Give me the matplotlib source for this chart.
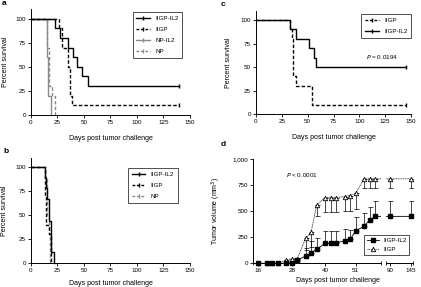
import numpy as np
import matplotlib
matplotlib.use('Agg')
import matplotlib.pyplot as plt
from matplotlib.lines import Line2D

plt.rcParams['font.family'] = ['Liberation Sans', 'DejaVu Sans']
plt.rcParams['font.size'] = 4.5
plt.rcParams['axes.linewidth'] = 0.7

# Panel a: Kaplan-Meier (days, percent survival)
a_t_iigp_il2 = [0, 23, 27, 35, 40, 43, 48, 54, 140]
a_s_iigp_il2 = [100, 90, 80, 70, 60, 50, 40, 30, 30]
a_t_iigp = [0, 26, 29, 35, 37, 39, 140]
a_s_iigp = [100, 90, 70, 50, 20, 10, 10]
a_t_np_il2 = [0, 15, 16, 19]
a_s_np_il2 = [100, 60, 20, 0]
a_t_np = [0, 15, 17, 20, 23]
a_s_np = [100, 70, 30, 20, 0]

# Panel b
b_t_iigp_il2 = [0, 13, 14, 15, 17, 19, 22]
b_s_iigp_il2 = [100, 89, 78, 67, 44, 11, 0]
b_t_iigp = [0, 13, 14, 17, 19]
b_s_iigp = [100, 70, 40, 30, 0]
b_t_np = [0, 13, 15, 17, 18]
b_s_np = [100, 90, 50, 30, 0]

# Panel c
c_t_iigp = [0, 33, 35, 36, 39, 54, 145]
c_s_iigp = [100, 90, 80, 40, 30, 10, 10]
c_t_iigp_il2 = [0, 33, 39, 51, 56, 58, 145]
c_s_iigp_il2 = [100, 90, 80, 70, 60, 50, 50]

# Panel d: tumor volume (mm3)
d_days = [16, 19, 21, 23, 26, 28, 30, 33, 35, 37, 40, 42, 44, 47, 49, 51, 54, 56, 58, 90, 145]
d_il2 = [0, 0, 0, 0, 0, 5, 30, 70, 100, 135, 190, 195, 195, 215, 230, 310, 355, 415, 450, 450, 450]
d_il2_err = [0, 0, 0, 0, 0, 15, 20, 80, 110, 105, 115, 110, 115, 115, 90, 130, 125, 125, 150, 150, 150]
d_iigp = [0, 0, 0, 0, 30, 45, 40, 240, 300, 560, 630, 630, 630, 640, 650, 670, 810, 810, 810, 810, 810]
d_iigp_err = [0, 0, 0, 0, 10, 20, 20, 110, 140, 110, 140, 140, 140, 140, 150, 150, 90, 90, 90, 90, 90]

W, H = 421, 287
fig = plt.figure(figsize=(W / 100, H / 100), dpi=100)


def px_axes(x0, x1, y_top, y_bot):
    return fig.add_axes([x0 / W, 1 - y_bot / H, (x1 - x0) / W, (y_bot - y_top) / H])


def style(ax):
    for s in ['top', 'right']:
        ax.spines[s].set_visible(False)
    ax.tick_params(direction='out', length=2, width=0.6, pad=1.5, labelsize=4.5)


def km(ax, t, s, **kw):
    ax.step(t, s, where='post', clip_on=False, **kw)
    if s[-1] > 0:
        ax.plot(t[-1], s[-1], marker='|', ms=3, mew=kw.get('lw', 1), color=kw['color'], clip_on=False)


def survival_axes(ax, lab_x, lab_y):
    style(ax)
    ax.set_xlim(0, 150)
    ax.set_ylim(0, 110)
    ax.set_xticks([0, 25, 50, 75, 100, 125, 150])
    ax.set_yticks([0, 25, 50, 75, 100])
    ax.set_ylabel('Percent survival', fontsize=5)
    ax.set_xlabel('Days post tumor challenge', fontsize=5)
    ax.yaxis.set_label_coords(lab_x, 0.5)
    ax.xaxis.set_label_coords(0.5, lab_y)


def leg_handle(color, ls, lw=1.0):
    return Line2D([], [], color=color, ls=ls, lw=lw, marker='|', ms=3, mew=lw)


blk, gry = 'black', '#8a8a8a'

# ---- a
ax = px_axes(31, 190, 9, 115)
km(ax, a_t_np_il2, a_s_np_il2, color=gry, lw=1.0)
km(ax, a_t_np, a_s_np, color=gry, lw=1.0, ls=(0, (2.5, 1.5)))
km(ax, a_t_iigp, a_s_iigp, color=blk, lw=1.0, ls=(0, (2.5, 1.5)))
km(ax, a_t_iigp_il2, a_s_iigp_il2, color=blk, lw=1.0)
survival_axes(ax, -0.14, -0.185)
hs = [leg_handle(blk, '-'), leg_handle(blk, (0, (2, 1.2))), leg_handle(gry, '-'), leg_handle(gry, (0, (2, 1.2)))]
leg = ax.legend(hs, ['IIGP-IL2', 'IIGP', 'NP-IL2', 'NP'], loc='upper left', bbox_to_anchor=(0.62, 1.0),
                fontsize=4.5, frameon=True, fancybox=False, edgecolor='black', handlelength=2.2,
                labelspacing=0.9, borderpad=0.6, numpoints=1)
leg.get_frame().set_linewidth(0.6)
fig.text(2 / W, 1 - 3.5 / H, 'a', fontsize=6, fontweight='bold', va='center')

# ---- b
ax = px_axes(31, 190, 157.8, 262.7)
km(ax, b_t_np, b_s_np, color=gry, lw=1.0, ls=(0, (2.5, 1.5)))
km(ax, b_t_iigp, b_s_iigp, color=blk, lw=1.0, ls=(0, (2.5, 1.5)))
km(ax, b_t_iigp_il2, b_s_iigp_il2, color=blk, lw=1.0)
survival_axes(ax, -0.145, -0.165)
hs = [leg_handle(blk, '-'), leg_handle(blk, (0, (2, 1.2))), leg_handle(gry, (0, (2, 1.2)))]
leg = ax.legend(hs, ['IIGP-IL2', 'IIGP', 'NP'], loc='upper left', bbox_to_anchor=(0.59, 0.93),
                fontsize=4.5, frameon=True, fancybox=False, edgecolor='black', handlelength=2.2,
                labelspacing=0.9, borderpad=0.6, numpoints=1)
leg.get_frame().set_linewidth(0.6)
fig.text(3 / W, 1 - 151.5 / H, 'b', fontsize=6, fontweight='bold', va='center')

# ---- c
ax = px_axes(256, 411, 10.6, 114)
km(ax, c_t_iigp, c_s_iigp, color=blk, lw=1.0, ls=(0, (2.5, 1.5)))
km(ax, c_t_iigp_il2, c_s_iigp_il2, color=blk, lw=1.0)
survival_axes(ax, -0.155, -0.195)
hs = [leg_handle(blk, (0, (2, 1.2))), leg_handle(blk, '-')]
leg = ax.legend(hs, ['IIGP', 'IIGP-IL2'], loc='upper left', bbox_to_anchor=(0.66, 1.0),
                fontsize=4.5, frameon=True, fancybox=False, edgecolor='black', handlelength=2.2,
                labelspacing=0.9, borderpad=0.6, numpoints=1)
leg.get_frame().set_linewidth(0.6)
ax.text(0.815, 0.555, r'$\it{P}$ = 0.0194', transform=ax.transAxes, fontsize=4.5, ha='center', va='center')
fig.text(221 / W, 1 - 5 / H, 'c', fontsize=6, fontweight='bold', va='center')

# ---- d (broken x axis)
d1 = px_axes(252.7, 380.7, 159, 263.3)
d2 = px_axes(385.7, 413.3, 159, 263.3)
days = np.array(d_days)
for axd, lim in [(d1, (14, 60)), (d2, (78.6, 152))]:
    style(axd)
    axd.set_xlim(*lim)
    axd.set_ylim(0, 1000)
    inside = (days >= lim[0]) & (days <= lim[1])
    axd.errorbar(d_days, d_il2, yerr=[np.zeros(len(d_il2)), d_il2_err], fmt='none',
                 ecolor=blk, elinewidth=0.5, capsize=1.8, capthick=0.5)
    axd.errorbar(d_days, d_iigp, yerr=[d_iigp_err, np.zeros(len(d_iigp))], fmt='none',
                 ecolor=blk, elinewidth=0.5, capsize=1.8, capthick=0.5)
    axd.plot(d_days, d_iigp, ls=(0, (1.5, 1)), lw=0.5, color=blk)
    axd.plot(d_days, d_il2, ls='-', lw=0.6, color=blk)
    axd.plot(days[inside], np.array(d_iigp)[inside], ls='none', marker='^', ms=3.2,
             mfc='white', mec=blk, mew=0.6, clip_on=False)
    axd.plot(days[inside], np.array(d_il2)[inside], ls='none', marker='s', ms=2.8, mfc=blk, mec=blk,
             clip_on=False)
    axd.plot([0, 1], [0, 0], transform=axd.transAxes, ls='none', marker='|', ms=3, mew=0.6,
             color=blk, clip_on=False)
d1.set_xticks([16, 28, 40, 51])
d2.set_xticks([90, 145])
d1.set_yticks([0, 250, 500, 750, 1000])
d1.set_yticklabels(['0', '250', '500', '750', '1,000'])
d2.spines['left'].set_visible(False)
d2.set_yticks([])
d2.patch.set_alpha(0)
d1.set_ylabel('Tumor volume (mm$^3$)', fontsize=5)
d1.yaxis.set_label_coords(-0.23, 0.5)
fig.text(338 / W, 1 - 280.5 / H, 'Days post tumor challenge', fontsize=5, ha='center', va='center')
fig.text(302 / W, 1 - 175 / H, r'$\it{P}$ < 0.0001', fontsize=4.5, ha='center', va='center')
hs = [Line2D([], [], color=blk, lw=0.6, marker='s', ms=2.8),
      Line2D([], [], color=blk, lw=0.5, ls=(0, (1.5, 1)), marker='^', ms=3.2, mfc='white', mew=0.6)]
leg = fig.legend(hs, ['IIGP-IL2', 'IIGP'], loc='upper left', bbox_to_anchor=(361 / W, 1 - 232 / H),
                 fontsize=4.5, frameon=True, fancybox=False, edgecolor='black', handlelength=1.9,
                 labelspacing=0.6, borderpad=0.4, numpoints=1)
leg.get_frame().set_linewidth(0.6)
fig.text(221 / W, 1 - 145 / H, 'd', fontsize=6, fontweight='bold', va='center')

fig.savefig('out.png', dpi=100)
